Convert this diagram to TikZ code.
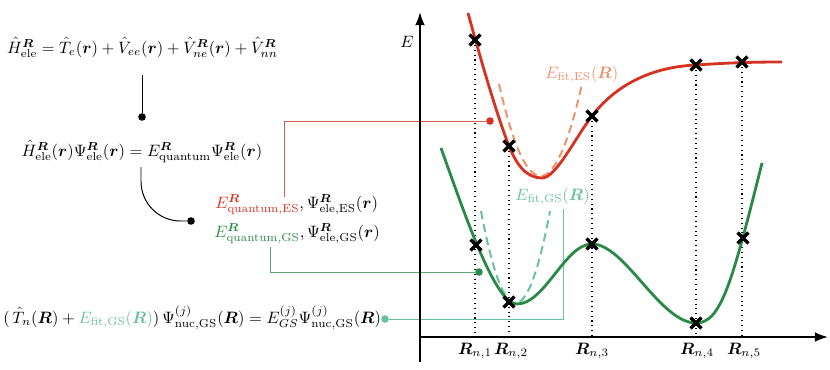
\documentclass[tikz,border=0pt]{standalone}
\usepackage{amsmath,bm}
\usetikzlibrary{shapes.misc,arrows.meta}
\definecolor{cred}{RGB}{214,50,34}
\definecolor{credline}{RGB}{205,95,80}
\definecolor{cgreen}{RGB}{40,138,70}
\definecolor{cgreenline}{RGB}{95,165,115}
\definecolor{cfites}{RGB}{240,145,105}
\definecolor{cfitgs}{RGB}{105,192,158}
\begin{document}
\begin{tikzpicture}[x=0.606pt,y=-0.606pt,
  crossmark/.style={cross out, draw=black, line width=2pt, minimum size=4.6pt, inner sep=0pt},
  dotmark/.style={circle, fill, inner sep=0pt, minimum size=4.6pt},
  guide/.style={line width=0.65pt, dash pattern=on 0.65pt off 2.3pt},
  curve/.style={line width=1.7pt},
  fitcurve/.style={line width=1.2pt, dash pattern=on 5pt off 3pt},
  conn/.style={line width=0.6pt},
  axis/.style={line width=1.2pt, -{Latex[length=8pt,width=6pt]}}]
\useasboundingbox (0,0) rectangle (830,369);

% equations
\node[anchor=base] (eq1) at (142.5,53) {$\hat H^{\bm R}_{\mathrm{ele}} = \hat T_e(\bm r) + \hat V_{ee}(\bm r) + \hat V^{\bm R}_{ne}(\bm r)+\hat V^{\bm R}_{nn}$};
\node[anchor=base] (eq2) at (142,156) {$\hat H^{\bm R}_{\mathrm{ele}}(\bm r)\Psi^{\bm R}_{\mathrm{ele}}(\bm r) = E^{\bm R}_{\mathrm{quantum}}\Psi^{\bm R}_{\mathrm{ele}}(\bm r)$};
\node[anchor=base west, inner sep=0pt] (es) at (215,208) {$\textcolor{cred}{E^{\bm R}_{\mathrm{quantum,ES}}},\Psi^{\bm R}_{\mathrm{ele,ES}}(\bm r)$};
\node[anchor=base west, inner sep=0pt] (gs) at (214,237) {$\textcolor{cgreen}{E^{\bm R}_{\mathrm{quantum,GS}}},\Psi^{\bm R}_{\mathrm{ele,GS}}(\bm r)$};
\node[anchor=base west, inner sep=0pt] (eq4) at (3,323) {$(\,\hat T_n(\bm R)+\textcolor{cfitgs}{E_{\mathrm{fit,GS}}(\bm R)})\,\Psi^{(j)}_{\mathrm{nuc,GS}}(\bm R) = E^{(j)}_{GS}\Psi^{(j)}_{\mathrm{nuc,GS}}(\bm R)$};

% dots
\node[dotmark] (d1) at (142,117) {};
\node[dotmark] (d2) at (191,221) {};
\node[dotmark, cred] (dr) at (490,121) {};
\node[dotmark, cgreen] (dg) at (479,272) {};
\node[dotmark, cfitgs] (dt) at (385,319) {};

% connector anchors
\coordinate (c1s) at (142,75);
\coordinate (c2s) at (141,167);
\coordinate (rs) at (284,197);
\coordinate (gss) at (270,247);
\coordinate (tt) at (563,209);

\draw[conn] (c1s) -- (d1);
\draw[conn, rounded corners=24pt] (c2s) |- (d2);
\draw[conn, credline] (rs) |- (dr);
\draw[conn, cgreenline] (gss) |- (dg);
\draw[conn, cfitgs] (dt) -| (tt);

% axes
\coordinate (o) at (420,337);
\coordinate (ytop) at (420,12);
\coordinate (ybot) at (420,362);
\coordinate (xend) at (828,337);
\draw[axis] (ybot) -- (ytop);
\draw[axis] (o) -- (xend);
\node (elab) at (407,42) {$E$};

% crosses (positions)
\coordinate (r1) at (475,40);
\coordinate (r2) at (509,146);
\coordinate (r3) at (592,116);
\coordinate (r4) at (696,65);
\coordinate (r5) at (742,62);
\coordinate (g1) at (476,245);
\coordinate (g2) at (509,302);
\coordinate (g3) at (592,244);
\coordinate (g4) at (696,323);
\coordinate (g5) at (743,238);

% axis labels
\node[anchor=base] (l1) at (475,354) {$\bm R_{n,1}$};
\node[anchor=base] (l2) at (511,354) {$\bm R_{n,2}$};
\node[anchor=base] (l3) at (592,354) {$\bm R_{n,3}$};
\node[anchor=base] (l4) at (697,354) {$\bm R_{n,4}$};
\node[anchor=base] (l5) at (744,354) {$\bm R_{n,5}$};

% guides
\draw[guide] (r1) -- (r1 |- o);
\draw[guide] (r2) -- (r2 |- o);
\draw[guide] (r3) -- (r3 |- o);
\draw[guide] (r4) -- (r4 |- o);
\draw[guide] (r5) -- (r5 |- o);

% fits
\draw[fitcurve, cfites] plot[domain=499:582, samples=50] (\x,{176-0.0534*(\x-540.5)^2});
\draw[fitcurve, cfitgs] plot[domain=481:550, samples=50] (\x,{303-0.0773*(\x-515.5)^2});

% potential curves
\draw[curve, cred] (468,13) .. controls (483,68) and (498,118) .. (509,146)
  .. controls (517,166) and (527,178) .. (542,178)
  .. controls (556,178) and (575,138) .. (592,116)
  .. controls (615,86) and (650,67) .. (696,65)
  .. controls (720,63.4) and (745,62) .. (782,62);
\draw[curve, cgreen] (441,148) .. controls (465,215) and (495,304) .. (517,304)
  .. controls (545,304) and (565,244) .. (592,244)
  .. controls (625,244) and (660,323) .. (696,323)
  .. controls (721,323) and (732,283) .. (762,163);

% cross marks
\foreach \n in {r1,r2,r3,r4,r5,g1,g2,g3,g4,g5}
  \node[crossmark] (x\n) at (\n) {};

% fit labels
\node[anchor=base west, inner sep=0pt, text=cfites] (fes) at (545,78) {$E_{\mathrm{fit,ES}}(\bm R)$};
\node[anchor=base west, inner sep=0pt, text=cfitgs] (fgs) at (515,200) {$E_{\mathrm{fit,GS}}(\bm R)$};
\end{tikzpicture}
\end{document}
